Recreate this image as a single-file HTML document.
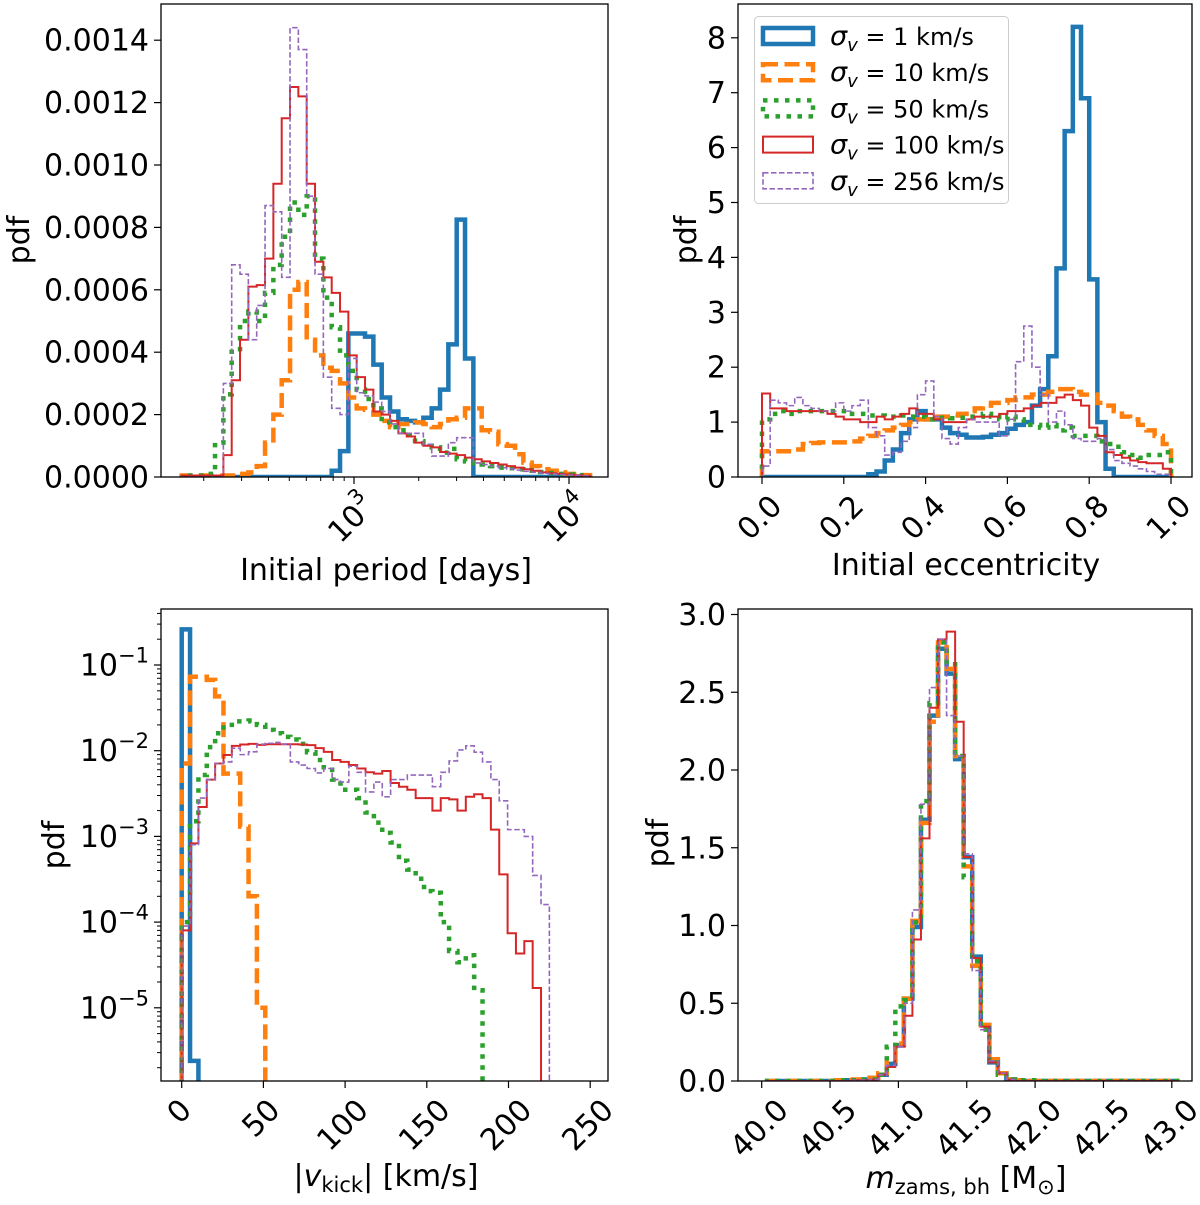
<!DOCTYPE html>
<html><head><meta charset="utf-8"><style>
html,body{margin:0;padding:0;background:#fff;}
svg{display:block;font-family:"DejaVu Sans","Liberation Sans",sans-serif;}
</style></head><body>
<svg id="fig" width="1200" height="1205" viewBox="0 0 1200 1205" xmlns="http://www.w3.org/2000/svg">
<rect width="1200" height="1205" fill="#fff"/>
</svg>
<script>
// ---------- DATA ----------
const seriesNames = ["σv=1 km/s","σv=10 km/s","σv=50 km/s","σv=100 km/s","σv=256 km/s"];
// Panel A: initial period, log-spaced bins (log10 days)
const periodLogMin = 2.1986;
const periodLogStep = 0.03876;
const periodBlue = [0,0,0,0,0,0,0,0,0,0,0,0,0,0,0,0,0,0,0.2,0.83,4.6,4.6,4.5,3.6,2.55,2.1,1.85,1.8,1.75,1.9,2.2,2.8,4.25,8.25,3.8,0,0,0,0,0,0,0,0,0,0,0,0,0,0];
const periodOrange = [0.05,0.05,0.05,0.05,0.05,0.05,0.05,0.1,0.15,0.35,1.1,2.0,3.1,6.0,6.25,4.4,3.9,3.5,3.4,3.0,2.55,2.2,2.15,2.0,1.8,1.6,1.7,1.7,1.75,1.7,1.6,1.7,1.85,1.9,2.2,2.2,1.5,1.45,1.05,1.0,0.73,0.46,0.35,0.25,0.2,0.15,0.1,0.08,0.06];
const periodGreen = [0.05,0.05,0.05,0.1,1.1,2.65,4.1,5.0,5.3,5.0,5.9,6.8,7.7,8.8,8.4,9.0,7.0,5.75,4.8,3.9,3.4,2.8,2.5,2.2,1.75,1.6,1.5,1.35,1.15,1.0,0.95,0.78,0.9,0.57,0.5,0.45,0.4,0.35,0.3,0.28,0.25,0.22,0.2,0.16,0.13,0.1,0.08,0.06,0.05];
const periodRed = [0.05,0.05,0.05,0.05,0.05,0.7,3.1,4.4,6.1,6.15,7.0,9.4,11.5,12.5,12.2,9.4,6.9,6.4,5.9,5.3,3.9,3.2,2.8,2.1,2.0,1.8,1.4,1.3,1.1,1.0,0.95,0.8,0.75,0.7,0.62,0.57,0.5,0.45,0.4,0.35,0.3,0.25,0.2,0.15,0.12,0.1,0.08,0.06,0.04];
const periodPurple = [0,0,0,0,0,3.0,6.8,6.5,4.4,5.5,8.7,8.5,6.4,14.4,13.7,9.0,6.5,3.2,2.2,2.0,3.8,2.7,2.6,2.4,2.1,1.7,1.4,1.4,1.4,1.05,0.67,0.67,1.1,1.26,1.26,0.45,0.4,0.35,0.3,0.26,0.22,0.18,0.15,0.12,0.1,0.08,0.06,0.05,0.04];
const periodScale = 1e-4;
const periodYTicks = ["0.0000","0.0002","0.0004","0.0006","0.0008","0.0010","0.0012","0.0014"];
// Panel B: eccentricity, 50 bins on [0,1]
const eccMin = 0, eccStep = 0.02;
const eccBlue = [0,0,0,0,0,0,0,0,0,0,0,0,0,0.05,0.1,0.3,0.5,0.8,1.05,1.2,1.05,1.05,0.9,0.8,0.77,0.72,0.72,0.73,0.77,0.8,0.88,0.95,1.0,1.3,1.6,2.2,3.8,6.3,8.2,6.9,3.6,1.0,0.15,0,0,0,0,0,0,0];
const eccOrange = [0.47,0.47,0.47,0.47,0.5,0.6,0.62,0.63,0.63,0.63,0.63,0.65,0.7,0.75,0.8,0.85,0.9,0.95,1.0,1.05,1.05,1.1,1.1,1.12,1.15,1.2,1.25,1.3,1.35,1.35,1.4,1.45,1.45,1.5,1.5,1.55,1.6,1.6,1.55,1.5,1.5,1.35,1.3,1.2,1.1,1.05,0.95,0.85,0.75,0.6];
const eccGreen = [1.05,1.15,1.2,1.15,1.2,1.2,1.2,1.2,1.2,1.2,1.2,1.15,1.15,1.12,1.12,1.1,1.1,1.12,1.1,1.1,1.05,1.07,1.08,1.07,1.08,1.1,1.1,1.15,1.1,1.05,1.1,1.05,0.95,0.95,0.9,0.95,0.85,0.9,0.75,0.75,0.75,0.65,0.6,0.55,0.45,0.4,0.35,0.4,0.4,0.45];
const eccRed = [1.52,1.25,1.25,1.2,1.2,1.2,1.2,1.2,1.15,1.1,1.05,1.05,1.0,1.0,1.1,1.05,1.1,1.15,1.25,1.15,1.15,1.05,1.0,1.0,1.0,1.05,1.1,1.1,1.1,1.15,1.2,1.2,1.25,1.3,1.35,1.35,1.45,1.5,1.4,1.3,0.9,0.75,0.45,0.4,0.35,0.3,0.27,0.25,0.25,0.15];
const eccPurple = [0.2,1.4,1.35,1.3,1.45,1.3,1.25,1.2,1.2,1.35,1.2,1.3,1.4,0.9,0.75,0.4,0.45,0.65,0.9,1.5,1.75,1.1,0.7,0.6,0.9,1.05,1.0,1.0,1.0,0.75,1.05,2.1,2.75,2.0,1.5,1.0,1.2,0.95,0.7,0.65,0.65,0.7,0.5,0.3,0.25,0.2,0.15,0.1,0.05,0.05];
const eccXTicks = ["0.0","0.2","0.4","0.6","0.8","1.0"];
const eccYTicks = ["0","1","2","3","4","5","6","7","8"];
// Panel C: kick velocity (km/s), log pdf
const kickMin = 0, kickStep = 5.114;
const kickBlue = [0.26,2.4e-6];
const kickOrange = [0.0071,0.073,0.073,0.067,0.043,0.0054,0.0054,0.0013,0.0002,1.0e-5];
const kickGreen = [1e-4,1.5e-3,5.2e-3,0.011,0.016,0.020,0.022,0.022,0.0225,0.020,0.0175,0.016,0.0145,0.0135,0.012,0.0096,0.0078,0.006,0.0046,0.0035,0.0035,0.0028,0.0019,0.00145,0.0011,0.00085,0.00052,0.00041,0.00032,0.00023,0.00022,1e-4,4.6e-5,3.4e-5,4.1e-5,1.6e-5];
const kickRed = [8e-5,8.3e-4,0.0022,0.0046,0.0071,0.0089,0.0114,0.0118,0.012,0.0117,0.0119,0.0119,0.0119,0.0119,0.0118,0.0116,0.0107,0.0097,0.0078,0.0074,0.0068,0.0062,0.0056,0.0054,0.0058,0.0042,0.0038,0.0035,0.0028,0.0028,0.002,0.0028,0.0027,0.0020,0.0029,0.0031,0.0028,0.0012,3.6e-4,7.4e-5,4.3e-5,6e-5,1.7e-5];
const kickPurple = [9e-5,8e-4,0.0028,0.0046,0.0071,0.0074,0.0107,0.009,0.0097,0.0119,0.0122,0.0125,0.0119,0.0074,0.0068,0.0062,0.0055,0.0062,0.0046,0.0043,0.0066,0.0056,0.0033,0.0043,0.0029,0.0046,0.0046,0.0052,0.0052,0.0052,0.0038,0.0056,0.0076,0.0102,0.0114,0.0096,0.0074,0.0046,0.0026,0.0012,0.0012,0.0010,3.5e-4,1.6e-4];
const kickXTicks = ["0","50","100","150","200","250"];
const kickYTickExps = ["−1","−2","−3","−4","−5"];
// Panel D: ZAMS mass of BH progenitor
const massMin = 40.04, massStep = 0.0625;
const massBlue = [0,0,0,0,0,0,0,0,0,0.005,0.005,0.01,0.02,0.04,0.11,0.23,0.53,0.99,1.68,2.35,2.78,2.62,2.07,1.44,0.80,0.36,0.12,0.05,0.01,0,0,0,0,0,0,0,0,0,0,0,0,0,0,0,0,0,0,0];
const massOrange = [0,0,0,0,0,0,0,0,0.005,0.005,0.01,0.01,0.02,0.05,0.13,0.24,0.53,1.03,1.66,2.31,2.82,2.65,2.09,1.38,0.74,0.36,0.14,0.05,0.01,0.005,0,0,0,0,0,0,0,0,0,0,0,0,0,0,0,0,0,0];
const massGreen = [0,0,0,0,0,0,0,0,0,0.005,0.005,0.01,0.01,0.04,0.22,0.48,0.52,1.02,1.8,2.43,2.82,2.68,2.09,1.31,0.77,0.33,0.12,0.04,0.01,0.005,0.005,0.005,0,0,0,0,0,0,0,0,0,0,0,0,0,0,0,0];
const massRed = [0,0,0,0,0,0,0,0,0,0,0.005,0.005,0.01,0.04,0.09,0.22,0.42,0.91,1.56,2.40,2.84,2.89,2.31,1.44,0.79,0.35,0.12,0.05,0.01,0,0,0,0,0,0,0,0,0,0,0,0,0,0,0,0,0,0,0];
const massPurple = [0,0,0,0,0,0,0,0,0,0,0.005,0.005,0.01,0.04,0.1,0.22,0.5,1.1,1.78,2.53,2.84,2.35,2.09,1.46,0.71,0.33,0.13,0.05,0.01,0,0,0,0,0,0,0,0,0,0,0,0,0,0,0,0,0,0,0];
const massXTicks = ["40.0","40.5","41.0","41.5","42.0","42.5","43.0"];
const massYTicks = ["0.0","0.5","1.0","1.5","2.0","2.5","3.0"];

// ---------- STYLES ----------
const colors = ["#1f77b4","#ff7f0e","#2ca02c","#d62728","#9467bd"];
const widths = [4.5,4.5,4.5,2,1.6];
const dashes = ["none","15,6.5","4.5,6.5","none","5.5,2.5"];
const NS = "http://www.w3.org/2000/svg";
const fig = document.getElementById("fig");
function el(tag, attrs, parent){ const e=document.createElementNS(NS,tag); for(const k in attrs) e.setAttribute(k,attrs[k]); (parent||fig).appendChild(e); return e; }

function histPath(values, edge, yf, yBase){
  let d = "M"+edge(0)+","+yBase;
  for(let i=0;i<values.length;i++){
    const y = yf(values[i]);
    d += " L"+edge(i)+","+y+" L"+edge(i+1)+","+y;
  }
  d += " L"+edge(values.length)+","+yBase;
  return d;
}

function drawPanel(p){
  const g = el("g",{});
  
  
  const clipId = p.name+"-clip";
  const cp = el("clipPath",{id:clipId}, g);
  el("rect",{x:p.L,y:p.T,width:p.R-p.L,height:p.B-p.T}, cp);
  const hg = el("g",{"clip-path":"url(#"+clipId+")"}, g);
  p.series.forEach((vals,s)=>{
    const path = el("path",{d:histPath(vals,p.edge,p.yf,p.B+3),fill:"none",stroke:colors[s],"stroke-width":widths[s],"stroke-dasharray":dashes[s],"stroke-linejoin":"miter"}, hg);
    
    
  });
  const frame = el("rect",{x:p.L,y:p.T,width:p.R-p.L,height:p.B-p.T,fill:"none",stroke:"#000","stroke-width":1.3}, g);
  
  
  return g;
}
function yTick(g,y,label,L,isLog){
  el("line",{x1:L-7,x2:L,y1:y,y2:y,stroke:"#000","stroke-width":1.2},g);
  if(label===null) return;
  const t = el("text",{x:L-12,y:y+10.5,"text-anchor":"end","font-size":30,fill:"#000"},g);
  
  
  if(isLog){ t.textContent="10"; const s=el("tspan",{dy:-13,"font-size":21},t); s.textContent=label; }
  else t.textContent=label;
}
function xTick(g,x,label,B,sup){
  el("line",{x1:x,x2:x,y1:B,y2:B+7,stroke:"#000","stroke-width":1.2},g);
  if(label===null) return;
  const t = el("text",{"text-anchor":"middle","dominant-baseline":"central","font-size":30,fill:"#000"},g);
  
  
  t.textContent = label;
  if(sup){ const s=el("tspan",{dy:-13,"font-size":21},t); s.textContent=sup; }
  const w = t.getComputedTextLength();
  const cx = x-2, cy = B + 17 + (w+20)*0.354;
  t.setAttribute("x",cx); t.setAttribute("y",cy);
  t.setAttribute("transform","rotate(-45 "+cx+" "+cy+")");
}
function label(text,x,y,rot,name){
  const t = el("text",{x:x,y:y,"text-anchor":"middle","font-size":30,fill:"#000"});
  if(rot) t.setAttribute("transform","rotate(-90 "+x+" "+y+")");
  
  
  t.textContent = text;
  return t;
}

// ---------- PANEL A ----------
{
  const L=161,R=608,T=4,B=477;
  const xf = lp => 354 + 215*(lp-3);
  const yf = v => B - v*periodScale/0.0002*62.4;
  const g = drawPanel({name:"period-panel",L,R,T,B,edge:i=>xf(periodLogMin+i*periodLogStep),yf,
    series:[periodBlue,periodOrange,periodGreen,periodRed,periodPurple]});
  periodYTicks.forEach((lab,i)=>yTick(g,yf(i*2),lab,L,false));
  for(let dec=2;dec<=4;dec++) for(let m=1;m<=9;m++){
    const lp = dec+Math.log10(m); const x=xf(lp);
    if(x<L||x>R) continue;
    if(m===1) xTick(g,x,"10",B,String(dec));
    else el("line",{x1:x,x2:x,y1:B,y2:B+4,stroke:"#000","stroke-width":1},g);
  }
  label("pdf",29,240,true,"y-axis-title");
  label("Initial period [days]",386,580,false,"x-axis-title");
}
// ---------- PANEL B ----------
{
  const L=738,R=1192,T=4,B=477;
  const xf = e => 762 + 409*e;
  const yf = v => B - 54.9*v;
  const g = drawPanel({name:"eccentricity-panel",L,R,T,B,edge:i=>xf(eccMin+i*eccStep),yf,
    series:[eccBlue,eccOrange,eccGreen,eccRed,eccPurple]});
  eccYTicks.forEach((lab,i)=>yTick(g,yf(i),lab,L,false));
  eccXTicks.forEach((lab,i)=>xTick(g,xf(i*0.2),lab,B));
  label("pdf",696,240,true,"y-axis-title");
  label("Initial eccentricity",966,575,false,"x-axis-title");
  // legend
  const lg = el("g",{});
  
  
  el("rect",{x:754.5,y:16.5,width:254,height:187,rx:4,fill:"#fff","fill-opacity":0.8,stroke:"#ccc","stroke-width":1},lg);
  const vals = ["1","10","50","100","256"];
  vals.forEach((v,s)=>{
    const cy = 36+36.2*s;
    const e = el("g",{},lg);
    
    
    el("rect",{x:763,y:cy-8,width:50,height:16,fill:"none",stroke:colors[s],"stroke-width":widths[s],"stroke-dasharray":dashes[s]},e);
    const t = el("text",{x:830,y:cy+9,"font-size":24,fill:"#000"},e);
    const a = el("tspan",{"font-style":"italic","font-size":27},t); a.textContent="σ";
    const b = el("tspan",{"font-style":"italic","font-size":18,dy:6},t); b.textContent="v";
    const c = el("tspan",{dy:-6},t); c.textContent=" = "+v+" km/s";
  });
}
// ---------- PANEL C ----------
{
  const L=161,R=608,T=609,B=1081;
  const xf = v => 181.7 + 1.634*v;
  const yf = v => v<=0 ? B+10 : 665 - 85.7*(Math.log10(v)+1);
  const g = drawPanel({name:"kick-panel",L,R,T,B,edge:i=>xf(kickMin+i*kickStep),yf,
    series:[kickBlue,kickOrange,kickGreen,kickRed,kickPurple]});
  kickYTickExps.forEach((lab,i)=>yTick(g,665+85.7*i,lab,L,true));
  for(let dec=-7;dec<=0;dec++) for(let m=2;m<=9;m++){
    const y = 665 - 85.7*(dec+Math.log10(m)+1);
    if(y<T||y>B) continue;
    el("line",{x1:L-4,x2:L,y1:y,y2:y,stroke:"#000","stroke-width":1},g);
  }
  kickXTicks.forEach((lab,i)=>xTick(g,xf(i*50),lab,B));
  const t = label("",386,1186,false,"x-axis-title");
  t.textContent="|"; const a=el("tspan",{"font-style":"italic"},t); a.textContent="v";
  const b=el("tspan",{"font-size":21,dy:6},t); b.textContent="kick";
  const c=el("tspan",{dy:-6},t); c.textContent="| [km/s]";
  label("pdf",64,845,true,"y-axis-title");
}
// ---------- PANEL D ----------
{
  const L=738,R=1192,T=609,B=1081;
  const xf = m => 761.7 + 136.7*(m-40);
  const yf = v => B - 155.5*v;
  const g = drawPanel({name:"mass-panel",L,R,T,B,edge:i=>xf(massMin+i*massStep),yf,
    series:[massBlue,massOrange,massGreen,massRed,massPurple]});
  massYTicks.forEach((lab,i)=>yTick(g,yf(i*0.5),lab,L,false));
  massXTicks.forEach((lab,i)=>xTick(g,xf(40+i*0.5),lab,B));
  label("pdf",668,843,true,"y-axis-title");
  const t = label("",966,1188,false,"x-axis-title");
  const a=el("tspan",{"font-style":"italic"},t); a.textContent="m";
  const b=el("tspan",{"font-size":21,dy:6},t); b.textContent="zams, bh";
  const c=el("tspan",{dy:-6},t); c.textContent=" [M";
  const d=el("tspan",{"font-size":21,dy:6},t); d.textContent="⊙";
  const e=el("tspan",{dy:-6},t); e.textContent="]";
}
</script>
</body></html>
